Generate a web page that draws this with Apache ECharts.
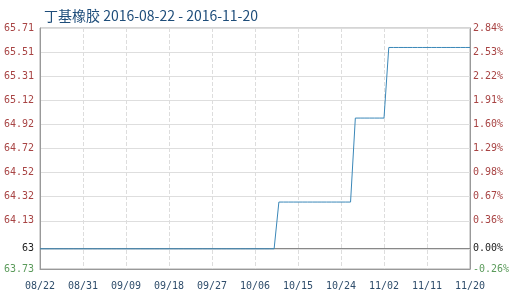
<!DOCTYPE html>
<html><head><meta charset="utf-8">
<script src="https://cdn.jsdelivr.net/npm/echarts@6/dist/echarts.min.js"></script>
<style>html,body{margin:0;padding:0;background:#fff}#c{width:514px;height:295px}</style>
</head><body><div id="c"></div>
<script>
const titleText = '丁基橡胶 2016-08-22 - 2016-11-20';
const categories = [
'08/22','08/23','08/24','08/25','08/26','08/27','08/28','08/29','08/30','08/31',
'09/01','09/02','09/03','09/04','09/05','09/06','09/07','09/08','09/09','09/10',
'09/11','09/12','09/13','09/14','09/15','09/16','09/17','09/18','09/19','09/20',
'09/21','09/22','09/23','09/24','09/25','09/26','09/27','09/28','09/29','09/30',
'10/01','10/02','10/03','10/04','10/05','10/06','10/07','10/08','10/09','10/10',
'10/11','10/12','10/13','10/14','10/15','10/16','10/17','10/18','10/19','10/20',
'10/21','10/22','10/23','10/24','10/25','10/26','10/27','10/28','10/29','10/30',
'10/31','11/01','11/02','11/03','11/04','11/05','11/06','11/07','11/08','11/09',
'11/10','11/11','11/12','11/13','11/14','11/15','11/16','11/17','11/18','11/19',
'11/20'];
const prices = [
63.896,63.896,63.896,63.896,63.896,63.896,63.896,63.896,63.896,63.896,
63.896,63.896,63.896,63.896,63.896,63.896,63.896,63.896,63.896,63.896,
63.896,63.896,63.896,63.896,63.896,63.896,63.896,63.896,63.896,63.896,
63.896,63.896,63.896,63.896,63.896,63.896,63.896,63.896,63.896,63.896,
63.896,63.896,63.896,63.896,63.896,63.896,63.896,63.896,63.896,63.896,
64.28,64.28,64.28,64.28,64.28,64.28,64.28,64.28,64.28,64.28,
64.28,64.28,64.28,64.28,64.28,64.28,
64.97,64.97,64.97,64.97,64.97,64.97,64.97,
65.55,65.55,65.55,65.55,65.55,65.55,65.55,65.55,65.55,65.55,
65.55,65.55,65.55,65.55,65.55,65.55,65.55,65.55];
const basePrice = 63.896;
const tickValues = [63.73, 63.896, 64.126, 64.324, 64.522, 64.72, 64.918, 65.116, 65.314, 65.512, 65.71];
const leftLabels = ['63.73','63','64.13','64.32','64.52','64.72','64.92','65.12','65.31','65.51','65.71'];
const rightLabels = ['-0.26%','0.00%','0.36%','0.67%','0.98%','1.29%','1.60%','1.91%','2.22%','2.53%','2.84%'];

function labelColor(i){ return i===0 ? '#5b9b5b' : (i===1 ? '#222' : '#a84444'); }
function idxOf(v){ let b=0,d=1e9; tickValues.forEach((t,i)=>{const e=Math.abs(t-v); if(e<d){d=e;b=i;}}); return b; }

const chart = echarts.init(document.getElementById('c'), null, {renderer:'canvas'});
const yBase = {
  type:'value', min:63.73, max:65.71,
  axisLine:{show:true, lineStyle:{color:'#999'}},
  axisTick:{show:false, customValues: tickValues},
  splitLine:{show:true, lineStyle:{color:'#dedede', width:1}}
};
chart.setOption({
  animation:false,
  title:{text:titleText, left:39, top:4, textStyle:{fontFamily:'Noto Sans CJK SC', fontSize:14, fontWeight:'normal', color:'#1e4d7a'}},
  grid:{left:40, right:44, top:28, bottom:26, show:true, borderColor:'#aaa', borderWidth:1},
  xAxis:{
    type:'category', data:categories, boundaryGap:false,
    axisLine:{lineStyle:{color:'#999'}},
    axisTick:{show:false},
    axisLabel:{interval:8, color:'#2f4d6b', fontFamily:'DejaVu Sans Mono', fontSize:10, margin:12},
    splitLine:{show:true, interval:8, lineStyle:{color:'#ddd', type:'dashed'}}
  },
  yAxis:[
    Object.assign({}, yBase, {position:'left',
      axisLabel:{customValues: tickValues, fontFamily:'DejaVu Sans Mono', fontSize:10, margin:6,
        formatter:(v)=>leftLabels[idxOf(v)], color:(v)=>labelColor(idxOf(v))}}),
    Object.assign({}, yBase, {position:'right', splitLine:{show:false},
      axisLabel:{customValues: tickValues, fontFamily:'DejaVu Sans Mono', fontSize:10, margin:3,
        formatter:(v)=>rightLabels[idxOf(v)], color:(v)=>labelColor(idxOf(v))}})
  ],
  series:[{
    type:'line', data:prices, showSymbol:false, symbol:'none',
    lineStyle:{color:'#3a87b8', width:1},
    markLine:{silent:true, symbol:'none', label:{show:false}, z:1,
      lineStyle:{color:'#888', type:'solid', width:1}, data:[{yAxis:basePrice}]}
  }]
});
</script></body></html>
